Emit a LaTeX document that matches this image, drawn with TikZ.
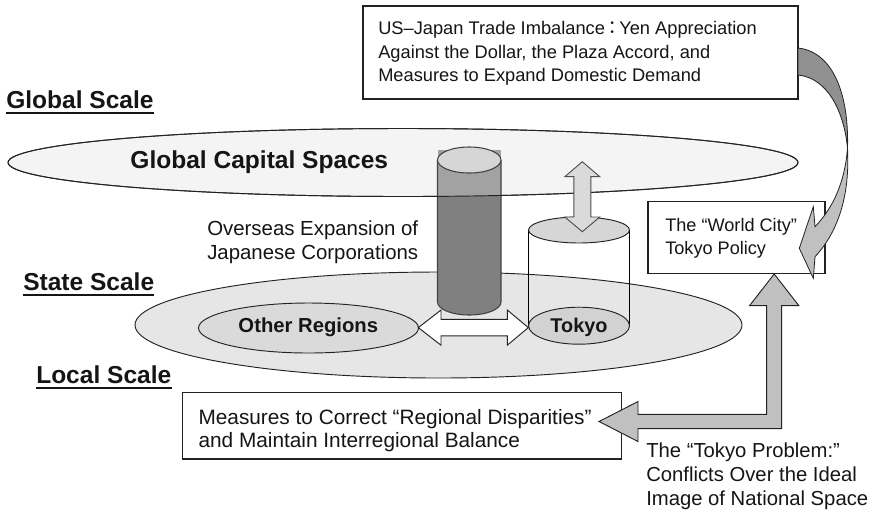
\documentclass[tikz,border=0pt]{standalone}
\usepackage{fontspec}
\setmainfont{Liberation Sans}
\newfontfamily\cjkfont{Noto Sans CJK JP}
\definecolor{txt}{HTML}{151515}
\definecolor{lineC}{HTML}{222222}
\definecolor{globalfill}{HTML}{F4F4F4}
\definecolor{statefill}{HTML}{E6E6E6}
\definecolor{regfill}{HTML}{DADADA}
\definecolor{tokyofill}{HTML}{D2D2D2}
\definecolor{capfill}{HTML}{D6D6D6}
\definecolor{cyldark}{HTML}{808080}
\definecolor{cyllight}{HTML}{A2A2A2}
\definecolor{arrowlight}{HTML}{DADADA}
\definecolor{arrowmid}{HTML}{C0C0C0}
\definecolor{arrowdark}{HTML}{909090}
\begin{document}
\begin{tikzpicture}[x=0.75pt,y=-0.75pt,
  outl/.style={draw=lineC,line width=0.7pt},
  boxst/.style={draw=lineC,line width=0.8pt,fill=white},
  reg/.style={inner sep=0pt,anchor=north west,align=left,text=txt},
  scalelbl/.style={inner sep=0pt,anchor=base west,text=txt,font=\fontsize{18.4}{22}\selectfont\bfseries},
  boldlbl/.style={inner sep=0pt,anchor=base,text=txt,font=\fontsize{#1}{#1}\selectfont\bfseries},
  uline/.style={line width=1.4pt,draw=txt}
]
\useasboundingbox (0,0) rectangle (874,512);

% ---- state scale ellipse and other regions
\draw[outl,fill=statefill] (438.5,325) ellipse [x radius=303.5, y radius=53];
\draw[outl,fill=regfill] (308.5,328) ellipse [x radius=110, y radius=25];

% ---- global ellipse
\draw[outl,fill=globalfill] (403,162.5) ellipse [x radius=395, y radius=34];

% ---- dark cylinder
\path[fill=cyldark] (437.5,160) -- (437.5,302) arc[start angle=180,end angle=0,x radius=31.75,y radius=13] -- (501,160) -- cycle;
\begin{scope}
  \clip (403,162.5) ellipse [x radius=395, y radius=34];
  \path[fill=cyllight] (437.5,150) rectangle (501,215);
\end{scope}
\draw[draw=lineC!85,line width=0.8pt] (437.5,160) -- (437.5,302) arc[start angle=180,end angle=0,x radius=31.75,y radius=13] -- (501,160);
\draw[outl] (403,162.5) ellipse [x radius=395, y radius=34];
\draw[draw=lineC!85,line width=0.8pt,fill=capfill] (469.25,160) ellipse [x radius=31.75,y radius=13];

% ---- Tokyo cylinder
\draw[line width=1.1pt,draw=black] (528.5,230) -- (528.5,325.7) (629.5,230) -- (629.5,325.7);
\draw[outl,fill=capfill] (579,230) ellipse [x radius=50.5,y radius=13];
\draw[outl,fill=tokyofill] (579,325.7) ellipse [x radius=50.5,y radius=18.5];

% ---- white double arrow
\draw[outl,fill=white] (418.3,327.6) -- (441,310) -- (441,319.4) -- (507.3,319.4) -- (507.3,310)
  -- (528.3,327.6) -- (507.3,345.2) -- (507.3,335.8) -- (441,335.8) -- (441,345.2) -- cycle;

% ---- vertical light double arrow
\draw[draw=lineC!80,line width=0.7pt,fill=arrowlight] (582.3,161.7) -- (599.8,176.7) -- (590.8,176.7) -- (590.8,217)
  -- (599.8,217) -- (582.3,231.7) -- (564.8,217) -- (573.8,217) -- (573.8,176.7) -- (564.8,176.7) -- cycle;

% ---- scale labels
\node[scalelbl] (gs) at (6,108.3) {Global Scale};
\node[scalelbl] (ss) at (23,290) {State Scale};
\node[scalelbl] (ls) at (36,383) {Local Scale};
\draw[uline] ([yshift=-3.75pt]gs.base west) -- ([yshift=-3.75pt]gs.base east);
\draw[uline] ([yshift=-3.75pt]ss.base west) -- ([yshift=-3.75pt]ss.base east);
\draw[uline] ([yshift=-3.75pt]ls.base west) -- ([yshift=-3.75pt]ls.base east);

% ---- bold labels
\node[boldlbl=18.4] (gcs) at (259.3,168.8) {Global Capital Spaces};
\node[boldlbl=15.2] (other) at (308.3,332.3) {Other Regions};
\node[boldlbl=14.9] (tokyo) at (579,332.2) {Tokyo};

% ---- overseas text
\node[reg,font=\fontsize{15.3}{18}\selectfont] (overseas) at (207,220.7) {Overseas Expansion of\\Japanese Corporations};

% ---- top box
\draw[boxst] (363,6) rectangle (798,99);
\node[reg,font=\fontsize{13.7}{17.6}\selectfont] (trade) at (378,21.4)
  {US–Japan Trade Imbalance\hspace{-1.5pt}{\cjkfont ：}\hspace{-1.5pt}Yen Appreciation\\Against the Dollar, the Plaza Accord, and\\Measures to Expand Domestic Demand};

% ---- world city box
\draw[boxst] (648,201.5) rectangle (825,273.3);
\node[reg,font=\fontsize{13.6}{17.25}\selectfont] (world) at (665,218.5) {The “World City”\\Tokyo Policy};

% ---- measures box
\draw[boxst] (182.7,392.7) rectangle (621.7,459);
\node[reg,font=\fontsize{15.6}{17.5}\selectfont] (measures) at (198.3,409.3) {Measures to Correct “Regional Disparities”\\and Maintain Interregional Balance};

% ---- curved arrow (top box -> world city)
\draw[draw=lineC,line width=0.6pt,fill=arrowdark] (798,48) .. controls (834,52) and (849,96) .. (847.5,148)
  .. controls (844,112) and (828,78) .. (798,75) -- cycle;
\draw[draw=lineC,line width=0.6pt,fill=arrowmid] (847.5,148) .. controls (850,196) and (838,232) .. (815,256.7)
  -- (813.3,278.3) -- (799.3,248.3) -- (813.3,206.7) -- (815,226.7)
  .. controls (833,208) and (845,182) .. (847.5,148) -- cycle;

% ---- L arrow
\draw[draw=lineC,line width=0.7pt,fill=arrowmid] (599,421.5) -- (638,401.5) -- (638,414.3) -- (766.7,414.3)
  -- (766.7,305.7) -- (749.5,305.7) -- (774.2,274) -- (798.9,305.7) -- (781.7,305.7) -- (781.7,428.6)
  -- (638,428.6) -- (638,441.5) -- cycle;

% ---- tokyo problem text
\node[reg,font=\fontsize{15.2}{18}\selectfont] (problem) at (646,442.7) {The “Tokyo Problem:”\\Conflicts Over the Ideal\\Image of National Space};
\end{tikzpicture}
\end{document}
